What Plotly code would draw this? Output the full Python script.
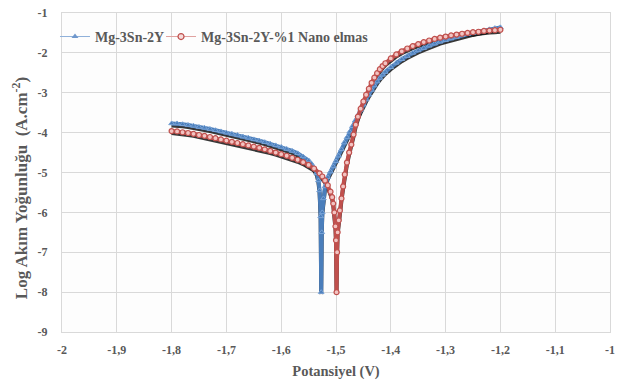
import plotly.graph_objects as go

# Mg-3Sn-2Y (blue, triangles)
blue_x = [-1.800, -1.790, -1.780, -1.770, -1.760, -1.750, -1.740, -1.730, -1.720, -1.710,
          -1.700, -1.690, -1.680, -1.670, -1.660, -1.650, -1.640, -1.630, -1.620, -1.610,
          -1.600, -1.590, -1.580, -1.570, -1.560, -1.550, -1.545, -1.540, -1.535, -1.532,
          -1.530, -1.528, -1.527, -1.526, -1.525, -1.523, -1.520, -1.515, -1.510, -1.505,
          -1.500, -1.495, -1.490, -1.485, -1.480, -1.475, -1.470, -1.465, -1.460, -1.455,
          -1.450, -1.445, -1.440, -1.435, -1.430, -1.425, -1.420, -1.415, -1.410, -1.400,
          -1.390, -1.380, -1.370, -1.360, -1.350, -1.340, -1.330, -1.320, -1.310, -1.300,
          -1.290, -1.280, -1.270, -1.260, -1.250, -1.240, -1.230, -1.220, -1.210, -1.200]
blue_y = [-3.77, -3.77, -3.79, -3.81, -3.83, -3.86, -3.88, -3.91, -3.94, -3.97,
          -4.00, -4.03, -4.06, -4.10, -4.13, -4.17, -4.20, -4.24, -4.28, -4.32,
          -4.36, -4.41, -4.46, -4.52, -4.60, -4.70, -4.78, -4.88, -5.02, -5.20,
          -5.45, -6.10, -8.00, -6.50, -6.00, -5.65, -5.35, -5.12, -4.98, -4.85,
          -4.72, -4.58, -4.42, -4.25, -4.12, -3.98, -3.84, -3.70, -3.56, -3.43,
          -3.30, -3.17, -3.05, -2.93, -2.82, -2.72, -2.63, -2.55, -2.48, -2.36,
          -2.25, -2.16, -2.08, -2.00, -1.94, -1.88, -1.82, -1.77, -1.72, -1.68,
          -1.64, -1.60, -1.56, -1.53, -1.50, -1.47, -1.44, -1.41, -1.38, -1.36]

# Mg-3Sn-2Y-%1 Nano elmas (red, circles)
red_x = [-1.800, -1.790, -1.780, -1.770, -1.760, -1.750, -1.740, -1.730, -1.720, -1.710,
         -1.700, -1.690, -1.680, -1.670, -1.660, -1.650, -1.640, -1.630, -1.620, -1.610,
         -1.600, -1.590, -1.580, -1.570, -1.560, -1.550, -1.540, -1.530, -1.525, -1.520,
         -1.515, -1.510, -1.507, -1.505, -1.503, -1.501, -1.500, -1.499, -1.498, -1.497,
         -1.495, -1.493, -1.490, -1.487, -1.484, -1.480, -1.476, -1.472, -1.468, -1.464,
         -1.460, -1.455, -1.450, -1.445, -1.440, -1.435, -1.430, -1.425, -1.420, -1.415,
         -1.410, -1.400, -1.390, -1.380, -1.370, -1.360, -1.350, -1.340, -1.330, -1.320,
         -1.310, -1.300, -1.290, -1.280, -1.270, -1.260, -1.250, -1.240, -1.230, -1.220,
         -1.210, -1.200]
red_y = [-3.96, -3.97, -3.99, -4.01, -4.03, -4.06, -4.08, -4.11, -4.14, -4.17,
         -4.20, -4.23, -4.26, -4.29, -4.32, -4.35, -4.38, -4.42, -4.46, -4.50,
         -4.54, -4.58, -4.63, -4.68, -4.74, -4.81, -4.90, -5.02, -5.10, -5.20,
         -5.32, -5.48, -5.62, -5.78, -6.00, -6.35, -6.70, -8.00, -7.00, -6.50,
         -6.20, -5.95, -5.65, -5.35, -5.05, -4.75, -4.50, -4.30, -4.05, -3.80,
         -3.60, -3.40, -3.22, -3.05, -2.90, -2.75, -2.62, -2.51, -2.41, -2.33,
         -2.26, -2.14, -2.04, -1.96, -1.89, -1.83, -1.78, -1.73, -1.69, -1.65,
         -1.62, -1.59, -1.56, -1.54, -1.52, -1.50, -1.48, -1.47, -1.45, -1.44,
         -1.43, -1.42]

series_names = ["Mg-3Sn-2Y", "Mg-3Sn-2Y-%1 Nano elmas"]

x_ticks = [-2, -1.9, -1.8, -1.7, -1.6, -1.5, -1.4, -1.3, -1.2, -1.1, -1]
x_tick_labels = ["-2", "-1,9", "-1,8", "-1,7", "-1,6", "-1,5", "-1,4", "-1,3", "-1,2", "-1,1", "-1"]
y_ticks = [-9, -8, -7, -6, -5, -4, -3, -2, -1]
y_tick_labels = ["-9", "-8", "-7", "-6", "-5", "-4", "-3", "-2", "-1"]

BLUE = "#4a7ebb"
RED = "#c0504d"
FONT = "Liberation Serif"
GRAY = "#595959"

fig = go.Figure()

# dark shadow lines under each curve
for xs, ys in [(blue_x, blue_y), (red_x, red_y)]:
    fig.add_trace(go.Scatter(
        x=xs, y=[v - 0.05 for v in ys], mode="lines",
        line=dict(color="rgba(20,20,20,0.85)", width=4),
        showlegend=False, hoverinfo="skip"))

blue_marker = dict(symbol="triangle-up", size=5, color=BLUE, line=dict(color="#7aa3d6", width=1))
red_marker = dict(symbol="circle", size=5, color="#f2c4c2", line=dict(color=RED, width=1.2))

fig.add_trace(go.Scatter(
    x=blue_x, y=blue_y, mode="lines+markers", name=series_names[0],
    line=dict(color=BLUE, width=4), marker=blue_marker, showlegend=False))
fig.add_trace(go.Scatter(
    x=red_x, y=red_y, mode="lines+markers", name=series_names[1],
    line=dict(color=RED, width=4), marker=red_marker, showlegend=False))

# legend entries (thin line + marker, as in the original)
fig.add_trace(go.Scatter(
    x=[None], y=[None], mode="lines+markers", name=series_names[0], legend="legend",
    line=dict(color="#8fb0da", width=1),
    marker=dict(symbol="triangle-up", size=6, color="#6f97cc")))
fig.add_trace(go.Scatter(
    x=[None], y=[None], mode="lines+markers", name=series_names[1], legend="legend2",
    line=dict(color="#e0a19f", width=1),
    marker=dict(symbol="circle", size=6, color="#f6dcdb", line=dict(color=RED, width=1.2))))

legend_font = dict(family=FONT, size=14, color=GRAY, weight="bold")

fig.update_layout(
    width=622, height=390,
    margin=dict(l=62, r=12, t=6, b=58),
    paper_bgcolor="white", plot_bgcolor="#fdfdfd",
    font=dict(family=FONT, color=GRAY, size=12),
    legend=dict(orientation="h", x=-0.0128, y=0.925, xanchor="left", yanchor="middle",
                bgcolor="rgba(0,0,0,0)", font=legend_font, itemwidth=30),
    legend2=dict(orientation="h", x=0.1807, y=0.925, xanchor="left", yanchor="middle",
                 bgcolor="rgba(0,0,0,0)", font=legend_font, itemwidth=30),
    showlegend=True,
    annotations=[dict(
        text="Log Akım Yoğunluğu  (A.cm<sup>-2</sup>)", textangle=-90,
        xref="paper", yref="paper", x=-0.0766, y=0.451, xanchor="center", yanchor="middle",
        showarrow=False, font=dict(family=FONT, size=17, color=GRAY, weight="bold"))],
)
fig.update_xaxes(
    range=[-2, -1], tickvals=x_ticks, ticktext=x_tick_labels,
    showgrid=True, gridcolor="#d9d9d9", gridwidth=1,
    showline=True, linecolor="#d9d9d9", mirror=True, zeroline=False,
    ticks="", ticklabeloverflow="allow", ticklabelstandoff=7,
    tickfont=dict(family=FONT, size=12, color=GRAY, weight="bold"),
    title=dict(text="Potansiyel (V)", standoff=9,
               font=dict(family=FONT, size=14.5, color=GRAY, weight="bold")))
fig.update_yaxes(
    range=[-9, -1], tickvals=y_ticks, ticktext=y_tick_labels,
    showgrid=True, gridcolor="#d9d9d9", gridwidth=1,
    showline=True, linecolor="#d9d9d9", mirror=True, zeroline=False,
    ticks="", ticklabelstandoff=11, ticklabeloverflow="allow",
    tickfont=dict(family=FONT, size=12, color=GRAY, weight="bold"))

# remove the browser's default 8px page margin so the figure sits at the window origin
fig.write_html("out.html", config={"displayModeBar": False},
               post_script="document.body.style.margin='0';")
